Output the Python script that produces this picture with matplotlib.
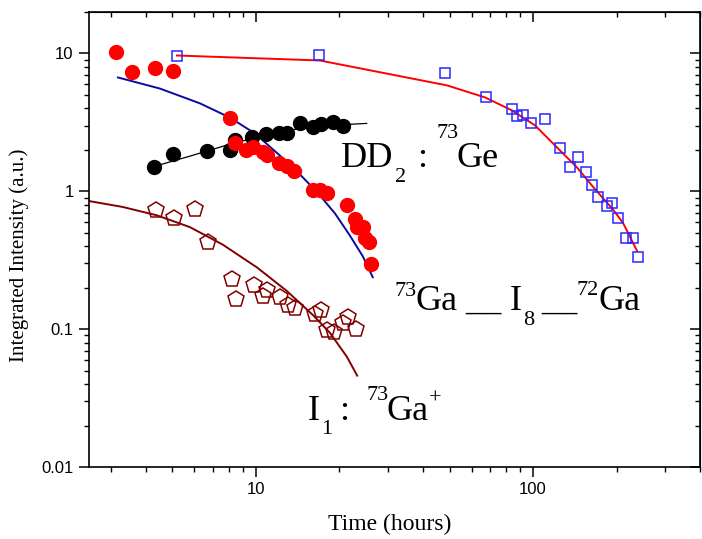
import matplotlib
matplotlib.use('Agg')
import matplotlib.pyplot as plt
from matplotlib.ticker import NullFormatter, FixedLocator, LogLocator

plt.rcParams['font.family'] = ['Liberation Serif', 'DejaVu Serif']

# 73Ga -- I8 -- 72Ga (red dots)
ga_x = [3.12, 3.57, 4.32, 5.01, 8.05, 8.4, 9.2, 9.75, 10.6, 11.0, 12.1, 12.9, 13.7,
        16.1, 17.0, 18.0, 21.3, 22.7, 23.2, 24.3, 24.7, 25.6, 26.0]
ga_y = [10.2, 7.28, 7.87, 7.45, 3.38, 2.23, 1.98, 2.08, 1.92, 1.85, 1.60, 1.52, 1.40,
        1.03, 1.02, 0.98, 0.79, 0.63, 0.55, 0.55, 0.46, 0.43, 0.296]
ga_fit_x = [3.18, 4.5, 6.28, 8.05, 9.92, 12.2, 14.4, 16.7, 19.3, 21.8, 24.3, 26.4]
ga_fit_y = [6.7, 5.57, 4.35, 3.43, 2.63, 1.82, 1.33, 0.977, 0.69, 0.48, 0.338, 0.238]

# DD2 : 73Ge (black dots)
dd_x = [4.28, 5.01, 6.65, 8.05, 8.4, 9.7, 10.9, 12.1, 13.0, 14.4, 16.1, 17.2, 19.0, 20.6]
dd_y = [1.49, 1.88, 1.95, 1.98, 2.34, 2.46, 2.59, 2.63, 2.67, 3.11, 2.91, 3.06, 3.21, 2.96]
dd_fit_x = [4.32, 5.78, 8.26, 11.2, 14.4, 18.5, 25.1]
dd_fit_y = [1.52, 1.80, 2.23, 2.59, 2.86, 3.01, 3.11]

# 72Ga (blue squares)
sq_x = [5.19, 16.9, 48.1, 67.6, 84, 87.5, 92, 98.4, 110, 125, 136, 145, 155, 163,
        172, 184, 193, 203, 217, 230, 239]
sq_y = [9.67, 9.8, 7.16, 4.80, 3.93, 3.5, 3.56, 3.11, 3.33, 2.05, 1.49, 1.76, 1.37, 1.12,
        0.91, 0.78, 0.82, 0.64, 0.456, 0.456, 0.333]
sq_fit_x = [5.19, 17.0, 48.9, 67.1, 84.0, 101.6, 122, 144, 165, 195, 211, 220, 237]
sq_fit_y = [9.67, 8.9, 5.87, 4.80, 3.86, 3.01, 2.08, 1.49, 1.07, 0.73, 0.59, 0.50, 0.37]

# I1 : 73Ga+ (pentagons)
i1_x = [4.36, 5.06, 6.03, 6.71, 8.19, 8.47, 9.84, 10.6, 11.0, 12.2, 13.05, 13.8,
        16.3, 17.2, 18.0, 19.1, 20.6, 21.5, 23.0]
i1_y = [0.73, 0.64, 0.74, 0.43, 0.23, 0.165, 0.208, 0.173, 0.192, 0.171, 0.149, 0.142,
        0.128, 0.137, 0.098, 0.095, 0.110, 0.122, 0.100]
i1_fit_x = [2.5, 3.31, 4.39, 5.78, 7.6, 10.1, 12.9, 16.1, 18.5, 21.3, 23.2]
i1_fit_y = [0.85, 0.77, 0.67, 0.55, 0.41, 0.28, 0.19, 0.126, 0.094, 0.063, 0.046]

W, H = 702, 539
fig = plt.figure(figsize=(W / 100, H / 100), dpi=100)
ax = fig.add_axes([89 / W, 72 / H, 611 / W, 455 / H])
ax.set_xscale('log')
ax.set_yscale('log')

dark_red = '#800000'
ax.plot(i1_fit_x, i1_fit_y, color=dark_red, lw=1.4, zorder=2)
ax.plot(i1_x, i1_y, 'p', ms=12, mfc='none', mec=dark_red, mew=1.1, zorder=3)

ax.plot(dd_fit_x, dd_fit_y, color='black', lw=0.9, zorder=2)
ax.plot(dd_x, dd_y, 'o', ms=10, color='black', zorder=3)

ax.plot(ga_fit_x, ga_fit_y, color='#0A0AA0', lw=1.4, zorder=2)
ax.plot(ga_x, ga_y, 'o', ms=10, color='#FF0000', zorder=4)

ax.plot(sq_fit_x, sq_fit_y, color='#FF0000', lw=1.4, zorder=2)
ax.plot(sq_x, sq_y, 's', ms=6.8, mfc='none', mec='#2828FF', mew=1.1, zorder=3)

ax.set_xlim(2.5, 400)
ax.set_ylim(0.01, 20)

ax.xaxis.set_major_locator(FixedLocator([10, 100]))
ax.set_xticklabels(['10', '100'])
ax.yaxis.set_major_locator(FixedLocator([0.01, 0.1, 1, 10]))
ax.set_yticklabels(['0.01', '0.1', '1', '10'])
ax.xaxis.set_minor_locator(LogLocator(base=10, subs=range(2, 10)))
ax.yaxis.set_minor_locator(LogLocator(base=10, subs=range(2, 10)))
ax.xaxis.set_minor_formatter(NullFormatter())
ax.yaxis.set_minor_formatter(NullFormatter())
for lab in ax.get_xticklabels() + ax.get_yticklabels():
    lab.set_fontfamily('Liberation Sans')
    lab.set_fontsize(12)

ax.tick_params(which='major', direction='out', length=7, width=1.1, pad=4)
ax.tick_params(which='minor', direction='out', length=3.5, width=1.0)
for sp in ax.spines.values():
    sp.set_linewidth(1.2)

top = ax.secondary_xaxis('top')
top.xaxis.set_major_locator(FixedLocator([10, 100]))
top.xaxis.set_minor_locator(LogLocator(base=10, subs=range(2, 10)))
top.xaxis.set_major_formatter(NullFormatter())
top.xaxis.set_minor_formatter(NullFormatter())
top.tick_params(which='major', direction='in', length=7, width=1.1)
top.tick_params(which='minor', direction='in', length=3.5, width=1.0)

right = ax.secondary_yaxis('right')
right.yaxis.set_major_locator(FixedLocator([0.01, 0.1, 1, 10]))
right.yaxis.set_minor_locator(LogLocator(base=10, subs=range(2, 10)))
right.yaxis.set_major_formatter(NullFormatter())
right.yaxis.set_minor_formatter(NullFormatter())
right.tick_params(which='major', direction='in', length=7, width=1.1)
right.tick_params(which='minor', direction='in', length=3.5, width=1.0)

ax.set_xlabel('Time (hours)', fontsize=17)
ax.xaxis.set_label_coords((390 - 89) / 611, (467 - 514) / 455)
ax.set_ylabel('Integrated Intensity (a.u.)', fontsize=15)
ax.yaxis.set_label_coords((29 - 89) / 611, (467 - 255) / 455)

# in-plot labels: (text, left px, baseline px from top, size) - Origin style sub/superscripts
labels = [
    ('DD', 341, 167, 26), ('2', 395, 182, 16), (':', 417, 167, 26),
    ('73', 436, 138, 16), ('Ge', 457, 167, 26),
    ('73', 395, 296, 16), ('Ga', 415, 310, 26), ('__', 465, 310, 26),
    ('I', 510, 310, 26), ('8', 523, 325, 16), ('__', 541, 310, 26),
    ('72', 577, 295, 16), ('Ga', 598, 310, 26),
    ('I', 308, 420, 26), ('1', 321, 434, 16), (':', 339, 420, 26),
    ('73', 366, 400, 16), ('Ga', 387, 420, 26), ('+', 429, 404, 16),
]
for s, px, py, size in labels:
    fig.text(px / W, 1 - py / H, s, fontsize=size, ha='left', va='baseline')

fig.savefig('out.png', dpi=100)
